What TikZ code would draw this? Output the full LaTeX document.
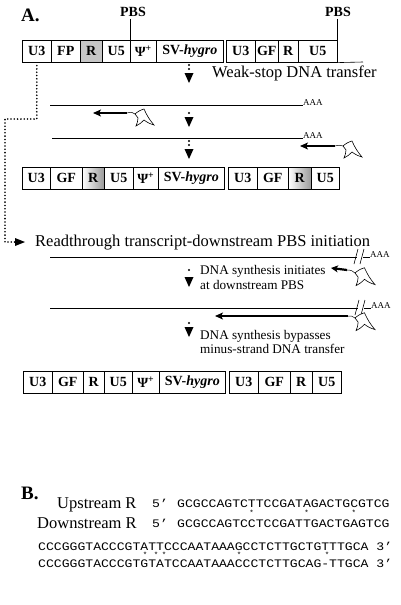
\documentclass[tikz,border=0pt]{standalone}
\usepackage{fontspec}
\setmainfont{Liberation Serif}
\setmonofont{Liberation Mono}
\newfontfamily\seqfont{Liberation Mono}[FakeStretch=1.14]
\usetikzlibrary{arrows.meta,calc}
\tikzset{
  seg/.style={draw, line width=0.6pt, minimum height=22pt, inner sep=0pt, anchor=north west,
    font=\fontsize{14}{16}\selectfont\bfseries},
  rgray/.style={fill=gray!45},
  rshade/.style={left color=white, middle color=gray!25, right color=gray!80},
  strand/.style={line width=0.9pt},
  primer/.style={line width=2.2pt, -{Stealth[length=8pt,width=7pt,inset=2pt]}},
  thinlink/.style={line width=0.5pt},
  dotline/.style={line width=1.8pt, dash pattern=on 0pt off 3.3pt, line cap=round},
  bigtxt/.style={font=\fontsize{16.5}{18}\selectfont, inner sep=0pt, anchor=base west},
  smalltxt/.style={font=\fontsize{13.2}{15}\selectfont, inner sep=0pt, anchor=base west},
  aaa/.style={font=\fontsize{9}{10}\selectfont, inner sep=0pt, anchor=base west},
  seqtxt/.style={font=\fontsize{11.5}{13}\selectfont\seqfont, inner sep=0pt, anchor=base west},
  star/.style={font=\fontsize{7.5}{8}\selectfont\ttfamily, inner sep=0pt},
  pbs/.style={font=\fontsize{14}{16}\selectfont\bfseries, inner sep=0pt},
  trna/.pic={\draw[line width=0.6pt, line join=miter, fill=white]
     (0,0) to[bend left=12] (9,-5) to[bend right=8] (19,11) to[bend left=10] (9,6)
     to[bend left=10] (1,12) to[bend right=10] (3,4) -- cycle;},
}
\newcommand{\downarr}[3]{% x, dot y, triangle top y
  \fill (#1,#2) circle (1.1pt);
  \fill (#1-4.5,#3) -- (#1+4.5,#3) -- (#1,#3+10) -- cycle;}
\begin{document}
\begin{tikzpicture}[x=1pt,y=-1pt]
\useasboundingbox (0,0) rectangle (400,605);

% ---------- labels A ----------
\node[font=\fontsize{19}{20}\selectfont\bfseries, inner sep=0pt, anchor=base west] (lblA) at (21,21) {A.};
\node[pbs] (pbs1) at (133,12) {PBS};
\node[pbs] (pbs2) at (338,12) {PBS};

% ---------- row 1 ----------
\node[seg, minimum width=29pt] (r1a) at (22,40) {U3};
\node[seg, minimum width=29pt] (r1b) at (51,40) {FP};
\node[seg, rgray, minimum width=22pt] (r1c) at (80,40) {R};
\node[seg, minimum width=28pt] (r1d) at (102,40) {U5};
\node[seg, minimum width=26pt] (r1e) at (130,40) {Ψ\textsuperscript{+}};
\node[seg, minimum width=67pt] (r1f) at (156,40) {SV-\textit{hygro}};
\node[seg, minimum width=29pt] (r1g) at (226,40) {U3};
\node[seg, minimum width=23pt] (r1h) at (255,40) {GF};
\node[seg, minimum width=20pt] (r1i) at (278,40) {R};
\node[seg, minimum width=39pt] (r1j) at (298,40) {U5};
\coordinate (r1end) at (363,62);
\draw[line width=0.6pt] (r1j.south east) -- (r1end);
\draw[line width=0.5pt] (pbs1.south -| r1d.north east) ++(0,2) -- (r1d.north east);
\draw[line width=0.5pt] (pbs2.south -| r1j.north east) ++(0,2) -- (r1j.north east);

% weak-stop
\fill (189,65) circle (1.1pt);
\downarr{189}{69}{73}
\node[bigtxt] (weak) at (212,77) {Weak-stop DNA transfer};

% line 1 with primer
\coordinate (l1a) at (50,105);
\node[aaa] (aaa1) at (303,105) {AAA};
\draw[strand] (l1a) -- (aaa1.base west);
\coordinate (p1t) at (127,113);
\coordinate (p1h) at (93,113);
\coordinate (p1s) at (135,114);
\draw[primer] (p1t) -- (p1h);
\draw[thinlink] (p1t) .. controls (131,112) and (133,112) .. (p1s);
\pic at (p1s) {trna};

\downarr{189}{113}{117}

% line 2 with primer
\coordinate (l2a) at (52,138);
\node[aaa] (aaa2) at (303,138) {AAA};
\draw[strand] (l2a) -- (aaa2.base west);
\coordinate (p2t) at (335,146);
\coordinate (p2h) at (300,146);
\coordinate (p2s) at (343,146);
\draw[primer] (p2t) -- (p2h);
\draw[thinlink] (p2t) .. controls (339,145) and (341,145) .. (p2s);
\pic at (p2s) {trna};

\fill (189,141) circle (1.1pt);
\downarr{189}{145}{149}

% ---------- row 2 ----------
\node[seg, minimum width=28pt] (r2a) at (22,167) {U3};
\node[seg, minimum width=32pt] (r2b) at (50,167) {GF};
\node[seg, rshade, minimum width=22pt] (r2c) at (82,167) {R};
\node[seg, minimum width=29pt] (r2d) at (104,167) {U5};
\node[seg, minimum width=25pt] (r2e) at (133,167) {Ψ\textsuperscript{+}};
\node[seg, minimum width=66pt] (r2f) at (158,167) {SV-\textit{hygro}};
\node[seg, minimum width=29pt] (r2g) at (228,167) {U3};
\node[seg, minimum width=31pt] (r2h) at (257,167) {GF};
\node[seg, rshade, minimum width=23pt] (r2i) at (288,167) {R};
\node[seg, minimum width=28pt] (r2j) at (311,167) {U5};

% ---------- readthrough ----------
\node[bigtxt] (rt) at (35,246) {Readthrough transcript-downstream PBS initiation};
\coordinate (c1) at (5,119);
\coordinate (c2) at (15,242);
\draw[dotline] (r1a.south) ++(0,3) |- (c1) |- (c2);
\fill (c2) ++(0,-4) -- ++(10,4) -- ++(-10,4) -- cycle;

% line A
\coordinate (lAa) at (50,257);
\coordinate (lAb) at (357,257);
\coordinate (lAc) at (363,257);
\node[aaa] (aaa3) at (370,257) {AAA};
\draw[strand] (lAa) -- (lAb);
\draw[strand] (lAc) -- (aaa3.base west);
\draw[line width=0.6pt] ($(lAb)+(-3,7)$) -- ($(lAb)+(1,-8)$);
\draw[line width=0.6pt] ($(lAc)+(-3,7)$) -- ($(lAc)+(1,-8)$);

% primer 3
\coordinate (p3t) at (347,270);
\coordinate (p3h) at (331,268);
\coordinate (p3s) at (355,273);
\draw[primer, -{Stealth[length=7pt,width=7pt,inset=2pt]}] (p3t) -- (p3h);
\draw[thinlink] (p3t) .. controls (351,270) and (353,271) .. (p3s);
\pic[scale=1.05] at (p3s) {trna};

\downarr{189}{270}{277}
\node[smalltxt] (t3a) at (200,274) {DNA synthesis initiates};
\node[smalltxt] (t3b) at (200,289) {at downstream PBS};

% line B
\coordinate (lBa) at (50,308);
\coordinate (lBb) at (358,308);
\coordinate (lBc) at (364,308);
\node[aaa] (aaa4) at (371,308) {AAA};
\draw[strand] (lBa) -- (lBb);
\draw[strand] (lBc) -- (aaa4.base west);
\draw[line width=0.6pt] ($(lBb)+(-3,7)$) -- ($(lBb)+(1,-8)$);
\draw[line width=0.6pt] ($(lBc)+(-3,7)$) -- ($(lBc)+(1,-8)$);

% primer 4
\coordinate (p4t) at (348,316);
\coordinate (p4h) at (215,316);
\coordinate (p4s) at (355,318);
\draw[primer] (p4t) -- (p4h);
\draw[thinlink] (p4t) .. controls (351,316) and (353,316) .. (p4s);
\pic[scale=1.05] at (p4s) {trna};

\downarr{189}{323}{327}
\node[smalltxt] (t4a) at (200,339) {DNA synthesis bypasses};
\node[smalltxt] (t4b) at (200,353) {minus-strand DNA transfer};

% ---------- row 3 ----------
\node[seg, minimum width=29pt] (r3a) at (23,371) {U3};
\node[seg, minimum width=31pt] (r3b) at (52,371) {GF};
\node[seg, minimum width=21pt] (r3c) at (83,371) {R};
\node[seg, minimum width=28pt] (r3d) at (104,371) {U5};
\node[seg, minimum width=27pt] (r3e) at (132,371) {Ψ\textsuperscript{+}};
\node[seg, minimum width=66pt] (r3f) at (159,371) {SV-\textit{hygro}};
\node[seg, minimum width=29pt] (r3g) at (229,371) {U3};
\node[seg, minimum width=32pt] (r3h) at (258,371) {GF};
\node[seg, minimum width=22pt] (r3i) at (290,371) {R};
\node[seg, minimum width=29pt] (r3j) at (312,371) {U5};

% ---------- part B ----------
\node[font=\fontsize{19}{20}\selectfont\bfseries, inner sep=0pt, anchor=base west] (lblB) at (21,499) {B.};
\node[bigtxt] (up) at (57,508) {Upstream R};
\node[seqtxt] (up5) at (152,507) {5’};
\node[seqtxt] (upseq) at (177,507) {GCGCCAGTCTTCCGATAGACTGCGTCG};
\node[star] (s1) at (251.7,512.5) {*};
\node[star] (s2) at (306.7,512.5) {*};
\node[star] (s3) at (353.9,512.5) {*};
\node[bigtxt] (dn) at (37,528) {Downstream R};
\node[seqtxt] (dn5) at (152,527) {5’};
\node[seqtxt] (dnseq) at (177,527) {GCGCCAGTCCTCCGATTGACTGAGTCG};

\node[seqtxt] (seq2a) at (38,550) {CCCGGGTACCCGTATTCCCAATAAAGCCTCTTGCTGTTTGCA 3’};
\node[star] (s4) at (145,555) {*};
\node[star] (s5) at (156,555) {*};
\node[star] (s6) at (164,555) {*};
\node[star] (s7) at (239,555) {*};
\node[star] (s8) at (327,555) {*};
\node[seqtxt] (seq2b) at (38,567) {CCCGGGTACCCGTGTATCCAATAAACCCTCTTGCAG-TTGCA 3’};
\end{tikzpicture}
\end{document}
